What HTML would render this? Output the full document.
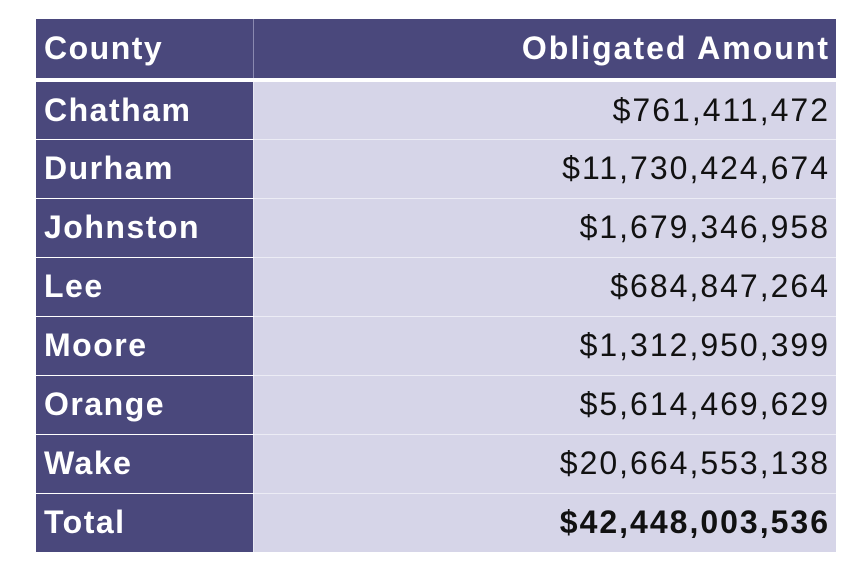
<!DOCTYPE html>
<html><head><meta charset="utf-8"><style>
body{margin:0;background:#fff;width:855px;height:583px;overflow:hidden;font-family:"Liberation Sans",sans-serif}
table{position:absolute;left:36px;top:19px;width:800px;border-collapse:collapse;table-layout:fixed}
td,th{height:59px;padding:0 8px;font-size:32px;box-sizing:border-box;letter-spacing:1.5px}
th{background:#4a487c;color:#fff;font-weight:bold;border-bottom:4px solid #fff;height:61px}
td.c{background:#4a487c;color:#fff;font-weight:bold;text-align:left;border-bottom:1px solid #fff}
td.v{background:#d6d5e8;color:#111;text-align:right;border-bottom:1px solid #ececf5;border-left:1px solid #e8e8f2;letter-spacing:2px;padding-right:6px}
th.h1{text-align:left;width:217px}th.h2{text-align:right;border-left:1px solid #8a89b0;letter-spacing:2px;padding-right:6px}
tr:last-child td{border-bottom:none}
</style></head><body>
<table>
<tr><th class="h1">County</th><th class="h2">Obligated Amount</th></tr>
<tr><td class="c">Chatham</td><td class="v">$761,411,472</td></tr>
<tr><td class="c">Durham</td><td class="v">$11,730,424,674</td></tr>
<tr><td class="c">Johnston</td><td class="v">$1,679,346,958</td></tr>
<tr><td class="c">Lee</td><td class="v">$684,847,264</td></tr>
<tr><td class="c">Moore</td><td class="v">$1,312,950,399</td></tr>
<tr><td class="c">Orange</td><td class="v">$5,614,469,629</td></tr>
<tr><td class="c">Wake</td><td class="v">$20,664,553,138</td></tr>
<tr><td class="c">Total</td><td class="v" style="font-weight:bold">$42,448,003,536</td></tr>
</table>
</body></html>
